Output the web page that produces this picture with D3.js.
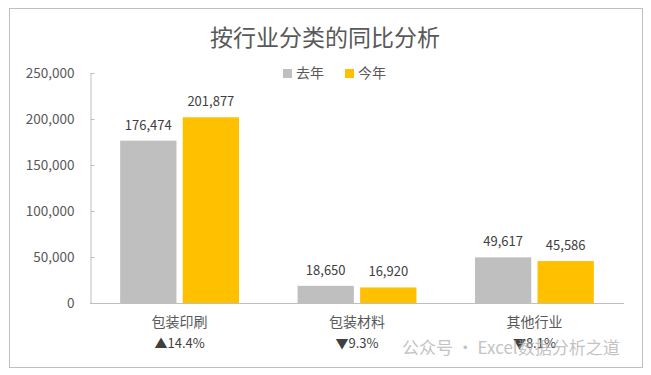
<!DOCTYPE html>
<html><head><meta charset="utf-8">
<script src="https://cdn.jsdelivr.net/npm/d3@7"></script>
<style>body{margin:0;background:#fff}svg{display:block}</style>
</head><body>
<script>
const categories = ["包装印刷", "包装材料", "其他行业"];
const seriesNames = ["去年", "今年"];
const lastYear = [176474, 18650, 49617];
const thisYear = [201877, 16920, 45586];
const changes = ["▲14.4%", "▼9.3%", "▼8.1%"];
const yTicks = [0, 50000, 100000, 150000, 200000, 250000];
const colors = ["#bfbfbf", "#ffc000"];

const W = 651, H = 375;
const svg = d3.select("body").append("svg").attr("width", W).attr("height", H);
const font = "'Noto Sans CJK SC', 'Open Sans', sans-serif";

svg.append("rect").attr("x", 9.5).attr("y", 8.5).attr("width", 633).attr("height", 359)
  .attr("fill", "#fff").attr("stroke", "#bfbfbf");

svg.append("text").attr("x", 325).attr("y", 46).attr("text-anchor", "middle")
  .attr("font-family", font).attr("font-size", 23).attr("fill", "#595959").text("按行业分类的同比分析");

const y = d3.scaleLinear().domain([0, 250000]).range([303, 73]);
const x0 = d3.scaleBand().domain(categories).range([90, 624]).paddingInner(0.33).paddingOuter(0.17);
const x1 = d3.scaleBand().domain(seriesNames).range([0, x0.bandwidth()]).paddingInner(0.1);

const yAxis = svg.append("g").attr("transform", "translate(90.5,0)")
  .call(d3.axisLeft(y).tickValues(yTicks).tickSizeInner(-4).tickSizeOuter(0).tickPadding(16)
    .tickFormat(d3.format(",")));
yAxis.selectAll("line,path").attr("stroke", "#bfbfbf");
yAxis.selectAll("text").attr("font-family", font).attr("font-size", 13.5).attr("fill", "#595959");

svg.append("line").attr("x1", 90).attr("x2", 624).attr("y1", 303.5).attr("y2", 303.5).attr("stroke", "#bfbfbf");

const data = categories.map((c, i) => ({ c, vals: [lastYear[i], thisYear[i]] }));
const g = svg.selectAll("g.grp").data(data).join("g").attr("class", "grp")
  .attr("transform", d => `translate(${x0(d.c)},0)`);
g.selectAll("rect").data(d => d.vals.map((v, j) => ({ v, s: seriesNames[j], j })))
  .join("rect").attr("x", d => x1(d.s)).attr("width", x1.bandwidth())
  .attr("y", d => y(d.v)).attr("height", d => y(0) - y(d.v)).attr("fill", d => colors[d.j]);
g.selectAll("text.val").data(d => d.vals.map((v, j) => ({ v, s: seriesNames[j], j })))
  .join("text").attr("class", "val").attr("x", d => x1(d.s) + x1.bandwidth() / 2)
  .attr("y", d => y(d.v) - 11).attr("text-anchor", "middle")
  .attr("font-family", font).attr("font-size", 13).attr("fill", "#404040")
  .text(d => d3.format(",")(d.v));

svg.selectAll("text.cat").data(categories).join("text").attr("class", "cat")
  .attr("x", d => x0(d) + x0.bandwidth() / 2).attr("y", 327).attr("text-anchor", "middle")
  .attr("font-family", font).attr("font-size", 14).attr("fill", "#595959").text(d => d);
svg.selectAll("text.chg").data(changes).join("text").attr("class", "chg")
  .attr("x", (d, i) => x0(categories[i]) + x0.bandwidth() / 2).attr("y", 348).attr("text-anchor", "middle")
  .attr("font-family", font).attr("font-size", 13).attr("fill", "#404040").text(d => d);

// legend
const lg = svg.append("g");
const legendX = [283, 345];
seriesNames.forEach((s, i) => {
  lg.append("rect").attr("x", legendX[i]).attr("y", 69).attr("width", 9).attr("height", 9).attr("fill", colors[i]);
  lg.append("text").attr("x", legendX[i] + 13).attr("y", 78).attr("font-family", font)
    .attr("font-size", 14).attr("fill", "#595959").text(s);
});

// watermark (as in reference)
svg.append("text").attr("x", 402).attr("y", 354).attr("font-family", font).attr("font-size", 17)
  .attr("fill", "#b0b0b0").attr("opacity", 0.75).text("公众号 · Excel数据分析之道");
</script>
</body></html>
